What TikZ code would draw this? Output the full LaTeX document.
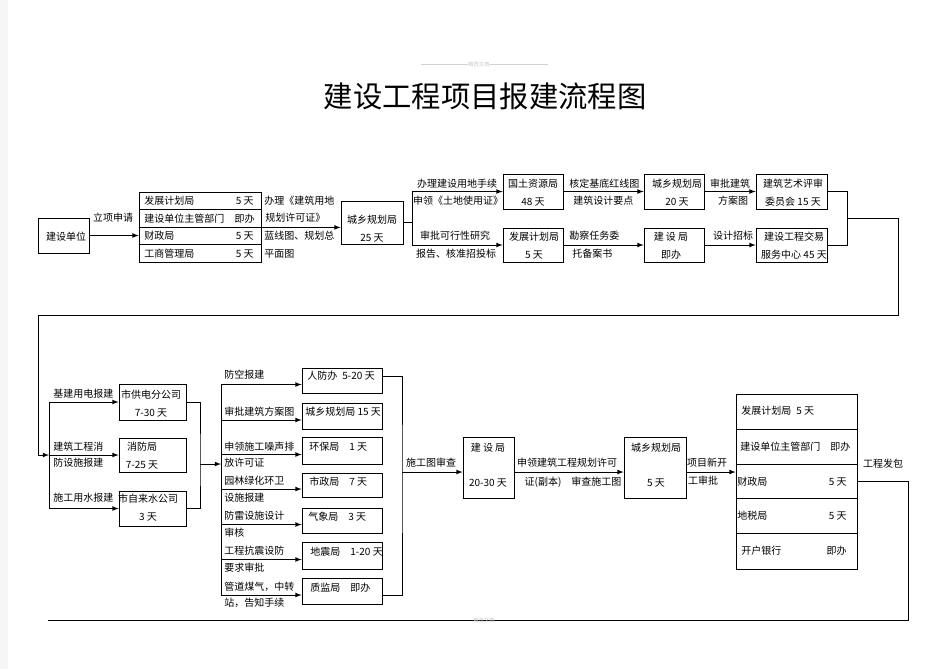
\documentclass[tikz,border=0pt]{standalone}
\usepackage{fontspec}
\newfontfamily\cjk{Noto Sans CJK SC}
\usetikzlibrary{positioning,arrows,fit,calc}

\begin{document}
\begin{tikzpicture}[x=0.75pt,y=-0.75pt,>=latex,line width=0.6pt,
        every node/.style={font=\cjk\fontsize{7.5}{13.5}\selectfont, inner sep=0pt},
        box/.style={draw, rectangle},
        txt/.style={align=center},
        lft/.style={anchor=west},
        rgt/.style={anchor=east},
        faint/.style={text=gray!45, font=\cjk\fontsize{4}{5}\selectfont},]
    \useasboundingbox (0,0) rectangle (945,669);
    \fill[gray!7] (0,0) rectangle (8,669);

    \node[faint] (hdr) at (479,64) {精选文档};
    \draw[gray!35, line width=0.4pt] (421,64) -- (hdr.west) (hdr.east) -- (548,64);
    \node[font=\cjk\fontsize{22}{26}\selectfont] (title) at (485,96) {建设工程项目报建流程图};

    \node[box, fit={(38,218) (89,253)}] (jsdw) {};
    \node[txt] at (66,237) (jsdw-t) {建设单位};
    \node at (113,218) (lxsq) {立项申请};
    \node[box, fit={(139,192) (261,209.5)}] (l1) {};
    \node[box, fit={(139,209.5) (261,227)}] (l2) {};
    \node[box, fit={(139,227) (261,244.5)}] (l3) {};
    \node[box, fit={(139,244.5) (261,262)}] (l4) {};
    \node[lft] at (144,201) (l1a) {发展计划局};
    \node[rgt] at (254,201) (l1b) {5 天};
    \node[lft] at (144,219) (l2a) {建设单位主管部门};
    \node[rgt] at (255,219) (l2b) {即办};
    \node[lft] at (144,236) (l3a) {财政局};
    \node[rgt] at (254,236) (l3b) {5 天};
    \node[lft] at (144,254) (l4a) {工商管理局};
    \node[rgt] at (254,254) (l4b) {5 天};
    \node[lft] at (264,201) (q1) {办理《建筑用地};
    \node[lft] at (265,218) (q2) {规划许可证》};
    \node[lft] at (264,236) (q3) {蓝线图、规划总};
    \node[lft] at (264,254) (q4) {平面图};

    \node[box, fit={(341,201) (403,244)}] (cx1) {};
    \node[txt] at (372,228.5) (cx1-t) {城乡规划局\\25 天};
    \node at (457,184) (q5) {办理建设用地手续};
    \node at (458,201) (q6) {申领《土地使用证》};
    \node at (455,236) (q7) {审批可行性研究};
    \node at (456,254) (q8) {报告、核准招投标};
    \node[box, fit={(503,174) (563,209)}] (gt) {};
    \node[txt] at (533,193) (gt-t) {国土资源局\\48 天};
    \node[box, fit={(503,228) (563,262)}] (fz1) {};
    \node[txt] at (534,246) (fz1-t) {发展计划局\\5 天};
    \node[lft] at (569,184) (q9) {核定基底红线图};
    \node[lft] at (573,201) (q10) {建筑设计要点};
    \node[lft] at (569,236) (q11) {勘察任务委};
    \node[lft] at (572,254) (q12) {托备案书};
    \node[box, fit={(644,174) (704,209)}] (cx2) {};
    \node[txt] at (677,193) (cx2-t) {城乡规划局\\20 天};
    \node[box, fit={(644,228) (704,262)}] (js1) {};
    \node[txt] at (671,246) (js1-t) {建~设~局\\即办};
    \node at (730,184) (q13) {审批建筑};
    \node at (733,201) (q14) {方案图};
    \node at (733,236) (q15) {设计招标};
    \node[box, fit={(756,174) (827,209)}] (ys) {};
    \node[txt] at (793,193) (ys-t) {建筑艺术评审\\委员会 15 天};
    \node[box, fit={(756,228) (827,262)}] (jy) {};
    \node[txt] at (794,246) (jy-t) {建设工程交易\\服务中心 45 天};

    \coordinate (t0) at (847,218);
    \coordinate (t1) at (898,218);
    \coordinate (t2) at (898,315);
    \coordinate (t3) at (38,315);
    \coordinate (t4) at (38,455);
    \coordinate (lb) at (49,455);

    \draw[->] (jsdw.east) -- (jsdw.east -| l3.west);
    \draw[->] (l2.south east) -- (l2.south east -| cx1.west);
    \draw (cx1.east) -- ++(9,0) coordinate (b1);
    \draw[->] (b1) |- (gt.west);
    \draw[->] (b1) |- (fz1.west);
    \draw[->] (gt.east) -- (cx2.west);
    \draw[->] (fz1.east) -- (js1.west);
    \draw[->] (cx2.east) -- (ys.west);
    \draw[->] (js1.east) -- (jy.west);
    \draw (ys.east) -| (t0) |- (jy.east);
    \draw (t0) -- (t1) -- (t2) -- (t3) -- (t4);
    \draw[->] (t4) -- (lb);

    \node[box, fit={(119,384) (186,420)}] (gd) {};
    \node[txt] at (151,404) (gd-t) {市供电分公司\\7-30 天};
    \node[box, fit={(119,438) (186,472)}] (xf) {};
    \node[txt] at (142,456) (xf-t) {消防局\\7-25 天};
    \node[box, fit={(119,491) (186,526)}] (zls) {};
    \node[txt] at (148,508) (zls-t) {市自来水公司\\3 天};
    \node[lft] at (53,394) (p1) {基建用电报建};
    \node[lft] at (53,447) (p2) {建筑工程消};
    \node[lft] at (53,463) (p3) {防设施报建};
    \node[lft] at (53,498) (p4) {施工用水报建};
    \draw[->] (lb |- gd) -- (gd.west);
    \draw[->] (lb) -- (xf.west);
    \draw[->] (lb |- zls) -- (zls.west);
    \draw (lb |- gd) -- (lb |- zls);

    \coordinate (rb) at (200,464);
    \coordinate (mb) at (221,464);
    \coordinate (mt) at (221,384.5);
    \coordinate (mbt) at (221,595);
    \draw (gd.east) -| (rb) |- (zls.east);
    \draw[->] (rb) -- (mb);
    \draw (mt) -- (mbt);

    \node[box, fit={(302,368) (382,393)}] (rf) {};
    \node[box, fit={(302,403) (382,429)}] (cx3) {};
    \node[box, fit={(302,437) (382,464)}] (hb) {};
    \node[box, fit={(302,473) (382,497)}] (sz) {};
    \node[box, fit={(302,508) (382,533)}] (qx) {};
    \node[box, fit={(302,542) (382,569)}] (dz) {};
    \node[box, fit={(302,578) (382,604)}] (zj) {};
    \node[lft] at (307,376) (rf-t) {人防办\enspace 5-20 天};
    \node[lft] at (305,412) (cx3-t) {城乡规划局 15 天};
    \node[lft] at (309,447) (hb-t) {环保局\quad 1 天};
    \node[lft] at (309,482) (sz-t) {市政局\quad 7 天};
    \node[lft] at (308,517) (qx-t) {气象局\quad 3 天};
    \node[lft] at (310,552) (dz-t) {地震局\quad 1-20 天};
    \node[lft] at (310,588) (zj-t) {质监局\quad 即办};
    \node[lft] at (224,375) (s1) {防空报建};
    \node[lft] at (224,412) (s2) {审批建筑方案图};
    \node[lft] at (224,447) (s3) {申领施工噪声排};
    \node[lft] at (224,463) (s4) {放许可证};
    \node[lft] at (224,481) (s5) {园林绿化环卫};
    \node[lft] at (224,498) (s6) {设施报建};
    \node[lft] at (224,516) (s7) {防雷设施设计};
    \node[lft] at (224,533) (s8) {审核};
    \node[lft] at (224,551) (s9) {工程抗震设防};
    \node[lft] at (224,568) (s10) {要求审批};
    \node[lft] at (224,587) (s11) {管道煤气，中转};
    \node[lft] at (224,603) (s12) {站，告知手续};
    \foreach \n in {rf,cx3,hb,sz,qx,dz,zj}
        \draw[<-] ([yshift=-3pt]\n.west) -- ++(-81,0);

    \coordinate (rb2) at (402,472);
    \draw ([yshift=3pt]rf.east) -| (rb2) |- ([yshift=-3pt]zj.east);

    \node[box, fit={(463,437) (514,498)}] (jsj2) {};
    \node[txt] at (488,465) (jsj2-t) {建~设~局\\[13pt]20-30 天};
    \node[box, fit={(624,437) (686,498)}] (cx4) {};
    \node[txt] at (656,465) (cx4-t) {城乡规划局\\[13pt]5 天};
    \node at (431,463) (u1) {施工图审查};
    \node at (567,463) (u2) {申领建筑工程规划许可};
    \node at (573,482) (u3) {证(副本)\quad 审查施工图};
    \node at (707,463) (u4) {项目新开};
    \node at (703,481) (u5) {工审批};
    \draw[->] (rb2) -- (rb2 -| jsj2.west);
    \draw[->] (rb2 -| jsj2.east) -- (rb2 -| cx4.west);

    \node[box, fit={(736,394) (857,429)}] (r1) {};
    \node[box, fit={(736,429) (857,464)}] (r2) {};
    \node[box, fit={(736,464) (857,498)}] (r3) {};
    \node[box, fit={(736,498) (857,533)}] (r4) {};
    \node[box, fit={(736,533) (857,569)}] (r5) {};
    \node[lft] at (741,411) (r1a) {发展计划局\enspace 5 天};
    \node[lft] at (740,447) (r2a) {建设单位主管部门\quad 即办};
    \node[lft] at (737,482) (r3a) {财政局};
    \node[rgt] at (847,482) (r3b) {5 天};
    \node[lft] at (737,516) (r4a) {地税局};
    \node[rgt] at (847,516) (r4b) {5 天};
    \node[lft] at (741,551) (r5a) {开户银行};
    \node[rgt] at (847,551) (r5b) {即办};
    \node at (883,464) (u6) {工程发包};
    \draw[->] (rb2 -| cx4.east) -- (rb2 -| r3.west);

    \coordinate (e1) at (908,620);
    \coordinate (e2) at (48,620);
    \draw (r3.east) -| (e1) -- (e2);
    \node[faint] (ftr) at (484,620) {精选文档};
\end{tikzpicture}
\end{document}
